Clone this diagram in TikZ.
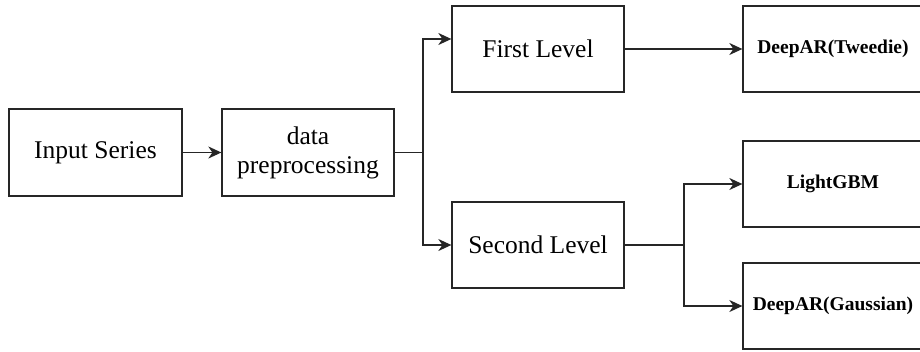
\documentclass[tikz,border=0pt]{standalone}
\usepackage{fontspec}
\setmainfont{Liberation Serif}
\usetikzlibrary{arrows.meta}
\begin{document}
\begin{tikzpicture}[x=1pt,y=-1pt,
  box/.style={draw=black!85,line width=1.3pt,rectangle,minimum height=86pt,inner sep=0pt,align=center,font=\fontsize{25.5}{29}\selectfont},
  mbox/.style={box,font=\fontsize{19.5}{23}\selectfont\bfseries,minimum width=180pt},
  arr/.style={draw=black!85,line width=1.3pt,-{Stealth[length=13pt,width=12pt,inset=4pt]}},
  ln/.style={draw=black!85,line width=1.3pt}]
\useasboundingbox (0,0) rectangle (920,351);
\clip (0,0) rectangle (920,351);
\fill[white] (0,0) rectangle (920,351);
\node[box,minimum width=173pt,minimum height=87pt] (in) at (95.5,152.5) {Input Series};
\node[box,minimum width=172pt,minimum height=87pt] (prep) at (308,152.5) {data\\preprocessing};
\node[box,minimum width=172pt] (first) at (538,49) {First Level};
\node[box,minimum width=172pt] (second) at (538,245) {Second Level};
\node[mbox] (tw) at (833,49) {DeepAR(Tweedie)};
\node[mbox] (lg) at (833,184) {LightGBM};
\node[mbox] (ga) at (833,306) {DeepAR(Gaussian)};
\coordinate (j1) at (423,152.5);
\coordinate (j2) at (684,245);
\draw[arr] (in.east) -- (prep.west);
\draw[ln] (prep.east) -- (j1);
\draw[arr] (j1) |- ([yshift=10pt]first.west);
\draw[arr] (j1) |- (second.west);
\draw[arr] (first.east) -- (tw.west);
\draw[ln] (second.east) -- (j2);
\draw[arr] (j2) |- (lg.west);
\draw[arr] (j2) |- (ga.west);
\end{tikzpicture}
\end{document}
